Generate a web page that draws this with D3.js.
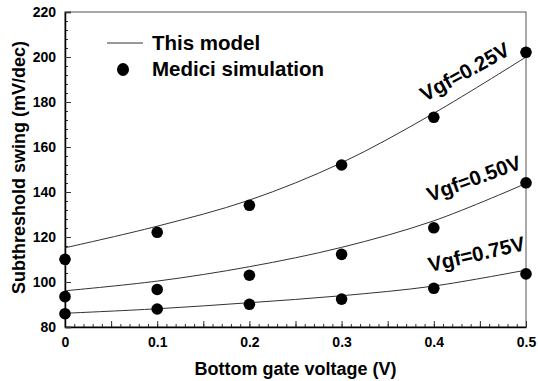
<!DOCTYPE html>
<html>
<head>
<meta charset="utf-8">
<script src="https://cdn.jsdelivr.net/npm/d3@7"></script>
<style>
  body { margin: 0; background: #fff; }
  text { font-family: Arial, "Liberation Sans", sans-serif; font-weight: bold; }
</style>
</head>
<body>
<div class="chart"></div>
<script>
// bottom gate voltage (V)
let vbg = [0, 0.1, 0.2, 0.3, 0.4, 0.5];

// model curves (mV/dec)
let model025 = [115.2, 124.8, 136.4, 153.0, 175.0, 200.0];
let model050 = [96.1, 100.4, 106.8, 115.4, 127.2, 143.8];
let model075 = [86.1, 88.1, 90.8, 93.9, 98.2, 105.3];

// Medici simulation points (mV/dec)
let sim025 = [110.1, 122.1, 134.1, 152.0, 173.2, 202.1];
let sim050 = [93.5, 96.7, 103.0, 112.3, 124.1, 144.1];
let sim075 = [85.9, 88.0, 90.1, 92.4, 97.2, 103.6];

let xTicks = [0, 0.1, 0.2, 0.3, 0.4, 0.5];
let yTicks = [80, 100, 120, 140, 160, 180, 200, 220];
let seriesLabels = ["Vgf=0.25V", "Vgf=0.50V", "Vgf=0.75V"];

let width = 538, height = 381;
let margin = {top: 12, right: 12, bottom: 54, left: 65};
let insideWidth = width - margin.left - margin.right;
let insideHeight = height - margin.top - margin.bottom;

let svg = d3.select(".chart").append("svg")
    .attr("width", width)
    .attr("height", height);
svg.append("rect").attr("width", width).attr("height", height).attr("fill", "#fff");

let g = svg.append("g").attr("transform", "translate(" + margin.left + "," + margin.top + ")");

let xScale = d3.scaleLinear().domain([0, 0.5]).range([0, insideWidth]);
let yScale = d3.scaleLinear().domain([80, 220]).range([insideHeight, 0]);

// frame
g.append("rect")
    .attr("width", insideWidth)
    .attr("height", insideHeight)
    .attr("fill", "none")
    .attr("stroke", "#555")
    .attr("stroke-width", 1);

// minor ticks (inward)
g.append("g")
    .attr("transform", "translate(0," + insideHeight + ")")
    .call(d3.axisBottom(xScale).tickValues(d3.range(0, 0.5001, 0.01)).tickSize(-3).tickFormat(""))
    .call(s => s.select(".domain").remove());
g.append("g")
    .call(d3.axisLeft(yScale).tickValues(d3.range(80, 220.1, 4)).tickSize(-3).tickFormat(""))
    .call(s => s.select(".domain").remove());

// major ticks
g.append("g")
    .attr("transform", "translate(0," + insideHeight + ")")
    .call(d3.axisBottom(xScale).tickValues(d3.range(0, 0.5001, 0.05)).tickSize(-6).tickFormat(""))
    .call(s => s.select(".domain").remove());

let xAxis = g.append("g")
    .attr("transform", "translate(0," + insideHeight + ")")
    .call(d3.axisBottom(xScale).tickValues(xTicks).tickSize(0).tickPadding(10).tickFormat(d3.format("")));
xAxis.select(".domain").attr("stroke", "#000").attr("stroke-width", 1.5);
xAxis.selectAll("text").attr("font-size", 14).attr("fill", "#000");

let yAxis = g.append("g")
    .call(d3.axisLeft(yScale).tickValues(yTicks).tickSize(-6).tickPadding(16));
yAxis.select(".domain").attr("stroke", "#000").attr("stroke-width", 1.5);
yAxis.selectAll("text").attr("font-size", 14).attr("fill", "#000").attr("x", -9);

g.selectAll(".tick line").attr("stroke", "#333");

// axis titles
svg.append("text")
    .attr("x", margin.left + insideWidth / 2)
    .attr("y", 375)
    .attr("text-anchor", "middle")
    .attr("font-size", 18)
    .text("Bottom gate voltage (V)");

svg.append("text")
    .attr("transform", "translate(25," + (margin.top + insideHeight / 2 - 2) + ") rotate(-90)")
    .attr("text-anchor", "middle")
    .attr("font-size", 18)
    .text("Subthreshold swing (mV/dec)");

// model lines
let line = d3.line()
    .x((d, i) => xScale(vbg[i]))
    .y(d => yScale(d))
    .curve(d3.curveCatmullRom);

[model025, model050, model075].forEach(m => {
    g.append("path")
        .datum(m)
        .attr("fill", "none")
        .attr("stroke", "#333")
        .attr("stroke-width", 1)
        .attr("d", line);
});

// simulation points
[sim025, sim050, sim075].forEach(s => {
    g.selectAll(null)
        .data(s)
        .enter().append("circle")
        .attr("cx", (d, i) => xScale(vbg[i]))
        .attr("cy", d => yScale(d))
        .attr("r", 5.8)
        .attr("fill", "#000");
});

// curve labels
let labelPos = [[425, 102, -29], [430, 202, -20], [430, 272, -13]];
seriesLabels.forEach((t, i) => {
    svg.append("text")
        .attr("transform", "translate(" + labelPos[i][0] + "," + labelPos[i][1] + ") rotate(" + labelPos[i][2] + ")")
        .attr("font-size", 20.5)
        .text(t);
});

// legend
svg.append("line")
    .attr("x1", 107).attr("x2", 143)
    .attr("y1", 43).attr("y2", 43)
    .attr("stroke", "#333").attr("stroke-width", 1);
svg.append("text").attr("x", 152).attr("y", 50).attr("font-size", 20.5).text("This model");
svg.append("ellipse").attr("cx", 123).attr("cy", 69.5).attr("rx", 6).attr("ry", 6.5).attr("fill", "#000");
svg.append("text").attr("x", 152).attr("y", 76).attr("font-size", 20.5).text("Medici simulation");
</script>
</body>
</html>
